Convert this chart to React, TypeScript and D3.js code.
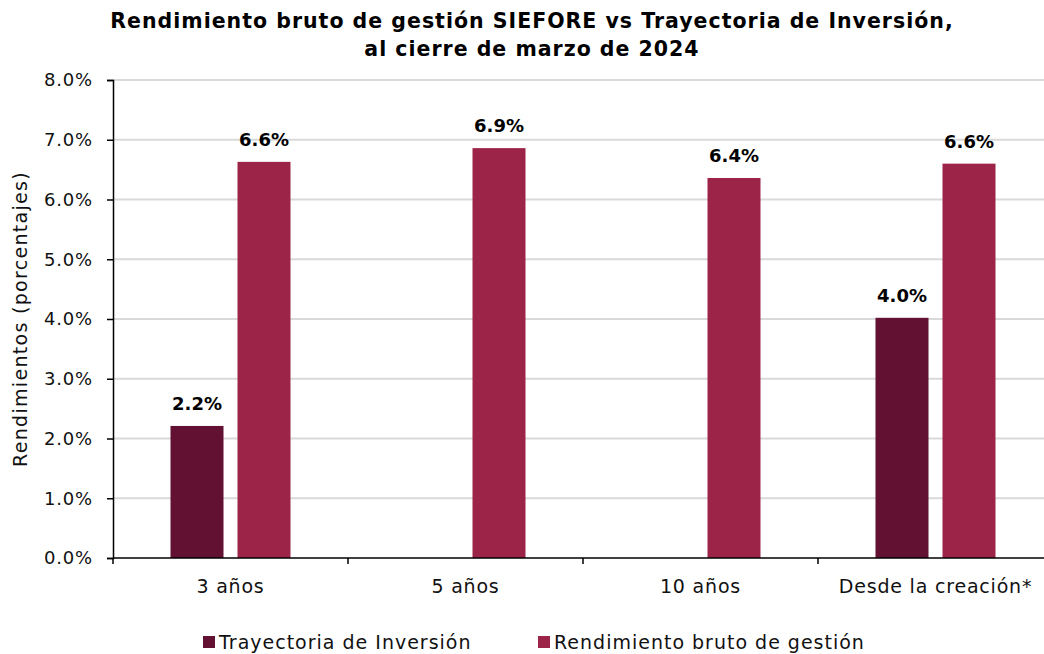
import { useRef, useEffect } from 'react';
import * as d3 from 'd3';

const categories = ['3 años', '5 años', '10 años', 'Desde la creación*'];
const trayectoria: (number | null)[] = [2.21, null, null, 4.02];
const rendimiento: number[] = [6.63, 6.86, 6.36, 6.6];
const yTicks = [0, 1, 2, 3, 4, 5, 6, 7, 8];
const seriesNames = ['Trayectoria de Inversión', 'Rendimiento bruto de gestión'];
const colors = ['#621132', '#9D2449'];

const FONT = "'DejaVu Sans', sans-serif";

export default function App() {
  const svgRef = useRef<SVGSVGElement>(null);

  useEffect(() => {
    if (!svgRef.current) return;
    const width = 1044;
    const height = 654;
    const svg = d3.select(svgRef.current);
    svg.selectAll('*').remove();
    svg.attr('width', width).attr('height', height).style('font-family', FONT);

    const left = 113;
    const top = 80;
    const bottom = 558;
    const bandW = 235;

    const x = d3.scaleBand<string>()
      .domain(categories)
      .range([left, left + bandW * categories.length])
      .padding(0);
    const y = d3.scaleLinear().domain([0, 8]).range([bottom, top]);

    // Title
    const title = svg.append('text')
      .attr('x', 532).attr('text-anchor', 'middle')
      .attr('font-weight', 700).attr('font-size', 20.5)
      .attr('letter-spacing', 1).attr('fill', '#000');
    title.append('tspan').attr('x', 532).attr('y', 28)
      .text('Rendimiento bruto de gestión SIEFORE vs Trayectoria de Inversión,');
    title.append('tspan').attr('x', 532).attr('y', 56)
      .text('al cierre de marzo de 2024');

    // Grid
    svg.append('g')
      .selectAll('line')
      .data(yTicks.filter((t) => t > 0))
      .enter()
      .append('line')
      .attr('x1', left).attr('x2', width)
      .attr('y1', (d) => y(d)).attr('y2', (d) => y(d))
      .attr('stroke', '#d9d9d9').attr('stroke-width', 2);

    // Bars
    const barW = 53;
    const gap = 14;
    const offsets = [-(gap / 2 + barW), gap / 2];
    const series = [trayectoria, rendimiento];
    series.forEach((vals, si) => {
      const g = svg.append('g');
      const data = categories
        .map((c, i) => ({ c, v: vals[i] }))
        .filter((d) => d.v != null) as { c: string; v: number }[];
      g.selectAll('rect')
        .data(data)
        .enter()
        .append('rect')
        .attr('x', (d) => x(d.c)! + x.bandwidth() / 2 + offsets[si])
        .attr('y', (d) => y(d.v))
        .attr('width', barW)
        .attr('height', (d) => bottom - y(d.v))
        .attr('fill', colors[si]);
      g.selectAll('text')
        .data(data)
        .enter()
        .append('text')
        .attr('x', (d) => x(d.c)! + x.bandwidth() / 2 + offsets[si] + barW / 2)
        .attr('y', (d) => y(d.v) - 16)
        .attr('text-anchor', 'middle')
        .attr('font-size', 18).attr('font-weight', 700).attr('fill', '#000')
        .text((d) => `${d.v.toFixed(1)}%`);
    });

    // Y axis
    const yAxis = svg.append('g')
      .attr('transform', `translate(${left},0)`)
      .call(d3.axisLeft(y).tickValues(yTicks).tickSize(6).tickPadding(14)
        .tickFormat((d) => `${(d as number).toFixed(1)}%`));
    yAxis.select('.domain').attr('stroke', '#000').attr('stroke-width', 1.5);
    yAxis.selectAll('line').attr('stroke', '#000').attr('stroke-width', 1.5);
    yAxis.selectAll('text')
      .attr('font-family', FONT).attr('font-size', 18)
      .attr('letter-spacing', 0.8).attr('fill', '#111');

    // X axis
    const xAxis = svg.append('g').attr('transform', `translate(0,${bottom})`);
    xAxis.append('line')
      .attr('x1', left).attr('x2', width)
      .attr('stroke', '#000').attr('stroke-width', 1.5);
    xAxis.selectAll('line.tick')
      .data(categories)
      .enter()
      .append('line')
      .attr('class', 'tick')
      .attr('x1', (d) => x(d)!).attr('x2', (d) => x(d)!)
      .attr('y1', 0).attr('y2', 6)
      .attr('stroke', '#000').attr('stroke-width', 1.5);
    xAxis.selectAll('text')
      .data(categories)
      .enter()
      .append('text')
      .attr('x', (d) => x(d)! + x.bandwidth() / 2)
      .attr('y', 35)
      .attr('text-anchor', 'middle')
      .attr('font-size', 19).attr('letter-spacing', 0.8).attr('fill', '#111')
      .text((d) => d);

    // Y title
    svg.append('text')
      .attr('transform', `translate(27,${(top + bottom) / 2}) rotate(-90)`)
      .attr('text-anchor', 'middle')
      .attr('font-size', 19).attr('letter-spacing', 1.3).attr('fill', '#111')
      .text('Rendimientos (porcentajes)');

    // Legend
    const legendX = [203, 538];
    seriesNames.forEach((name, i) => {
      svg.append('rect')
        .attr('x', legendX[i]).attr('y', 636)
        .attr('width', 12).attr('height', 12)
        .attr('fill', colors[i]);
      svg.append('text')
        .attr('x', legendX[i] + 16).attr('y', 649)
        .attr('font-size', 19).attr('letter-spacing', 1).attr('fill', '#111')
        .text(name);
    });
  }, []);

  return <svg ref={svgRef} style={{ display: 'block', position: 'absolute', left: 0, top: 0 }} />;
}
